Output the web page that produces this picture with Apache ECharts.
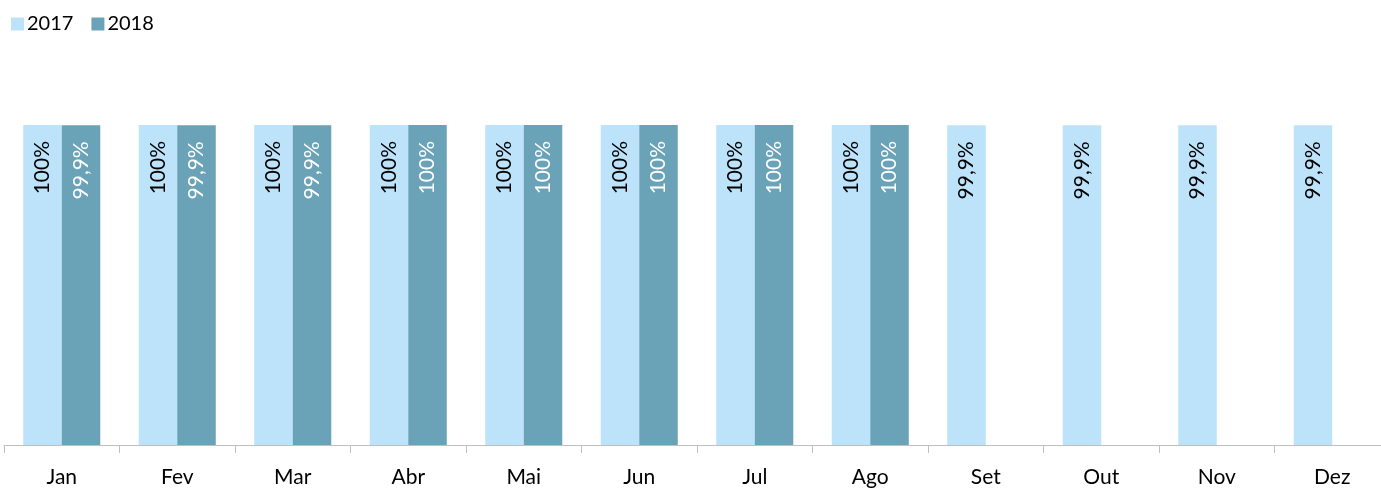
<!DOCTYPE html>
<html>
<head>
<meta charset="utf-8">
<script src="https://cdn.jsdelivr.net/npm/echarts@6/dist/echarts.min.js"></script>
<style>
html,body{margin:0;padding:0;background:#fff;}
#chart{width:1381px;height:488px;}
</style>
</head>
<body>
<div id="chart"></div>
<script>
const categories = ['Jan','Fev','Mar','Abr','Mai','Jun','Jul','Ago','Set','Out','Nov','Dez'];
const values2017 = [100,100,100,100,100,100,100,100,99.9,99.9,99.9,99.9];
const values2018 = [99.9,99.9,99.9,100,100,100,100,100,null,null,null,null];
const seriesNames = ['2017','2018'];

function fmt(p){
  const v = p.value;
  if (v === null || v === undefined) return '';
  return v >= 100 ? '100%' : v.toFixed(1).replace('.', ',') + '%';
}

const chart = echarts.init(document.getElementById('chart'));
chart.setOption({
  animation: false,
  textStyle: { fontFamily: 'Lato' },
  legend: {
    left: 6, top: 9,
    itemWidth: 13, itemHeight: 13, itemGap: 18,
    icon: 'rect',
    textStyle: { fontSize: 20, color: '#000', fontFamily: 'Lato', padding: [0,0,0,-2] },
    data: seriesNames
  },
  grid: { left: 4, width: 1386, top: 125, bottom: 43, containLabel: false, outerBoundsMode: 'none' },
  xAxis: {
    type: 'category',
    data: categories,
    axisLine: { lineStyle: { color: '#BFBFBF', width: 1 } },
    axisTick: { show: true, length: 8, lineStyle: { color: '#BFBFBF' } },
    axisLabel: { fontSize: 21, color: '#000', margin: 22, fontFamily: 'Lato', hideOverlap: false },
    axisLabelInterval: 0
  },
  yAxis: {
    type: 'value', min: 0, max: 100, show: false,
    splitLine: { show: false }
  },
  series: [
    {
      name: seriesNames[0], type: 'bar', data: values2017,
      barGap: '0%', barCategoryGap: '33.3%',
      itemStyle: { color: '#BDE3FB' },
      label: {
        show: true, position: 'insideTop', rotate: 90, align: 'right', verticalAlign: 'middle',
        distance: 16, fontSize: 21, color: '#000', fontFamily: 'Lato', formatter: fmt
      }
    },
    {
      name: seriesNames[1], type: 'bar', data: values2018,
      itemStyle: { color: '#6AA2B8' },
      label: {
        show: true, position: 'insideTop', rotate: 90, align: 'right', verticalAlign: 'middle',
        distance: 16, fontSize: 21, color: '#fff', fontFamily: 'Lato', formatter: fmt
      }
    }
  ]
});
</script>
</body>
</html>
